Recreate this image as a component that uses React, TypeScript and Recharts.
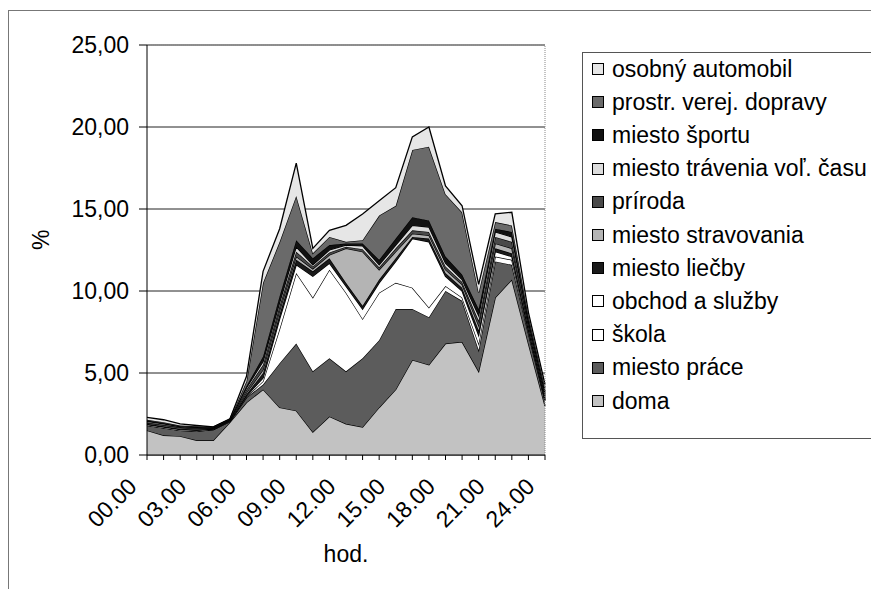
import { AreaChart, Area, XAxis, YAxis, CartesianGrid, ReferenceLine } from "recharts";

const hours = [
  "00.00", "01.00", "02.00", "03.00", "04.00", "05.00", "06.00", "07.00", "08.00",
  "09.00", "10.00", "11.00", "12.00", "13.00", "14.00", "15.00", "16.00", "17.00",
  "18.00", "19.00", "20.00", "21.00", "22.00", "23.00", "24.00",
];
const labelHours = [0, 3, 6, 9, 12, 15, 18, 21, 24];
const yTicks = [0, 5, 10, 15, 20, 25];

// stacked bottom -> top
const doma = [1.5, 1.2, 1.15, 0.9, 0.9, 2.0, 3.2, 4.0, 2.9, 2.7, 1.4, 2.35, 1.9, 1.7, 2.9, 4.0, 5.8, 5.5, 6.8, 6.9, 5.1, 9.6, 10.7, 6.8, 3.0];
const miestoPrace = [0.3, 0.45, 0.35, 0.55, 0.65, 0.05, 0.3, 0.3, 2.7, 4.1, 3.7, 3.55, 3.2, 4.2, 4.1, 4.9, 3.1, 2.9, 3.2, 2.5, 1.3, 2.2, 0.9, 0.6, 0.3];
const skola = [0, 0, 0, 0, 0, 0, 0.05, 0.2, 2.1, 4.3, 4.5, 5.4, 4.8, 2.4, 2.9, 1.6, 1.3, 0.6, 0.3, 0.2, 0.4, 0.3, 0.3, 0.1, 0.05];
const obchod = [0.05, 0.05, 0.05, 0.05, 0.03, 0.02, 0.05, 0.2, 0.6, 0.5, 1.3, 0.4, 0.4, 0.6, 0.6, 1.3, 3.0, 4.0, 0.6, 0.4, 0.5, 0.3, 0.2, 0.1, 0.05];
const liecby = [0.05, 0.05, 0.05, 0.05, 0.02, 0.01, 0.1, 0.3, 0.3, 0.3, 0.3, 0.3, 0.2, 0.2, 0.2, 0.2, 0.1, 0.2, 0.2, 0.2, 0.3, 0.2, 0.2, 0.15, 0.1];
const stravovanie = [0.05, 0.05, 0.05, 0.05, 0.02, 0.02, 0.1, 0.2, 0.2, 0.2, 0.15, 0.2, 2.1, 3.3, 0.6, 0.4, 0.2, 0.2, 0.2, 0.2, 0.3, 0.3, 0.3, 0.15, 0.1];
const priroda = [0.05, 0.05, 0.05, 0.05, 0.02, 0.02, 0.2, 0.3, 0.3, 0.3, 0.15, 0.15, 0.1, 0.15, 0.15, 0.2, 0.2, 0.2, 0.2, 0.15, 0.3, 0.4, 0.4, 0.1, 0.1];
const volnyCas = [0.05, 0.05, 0.03, 0.03, 0.02, 0.02, 0.1, 0.2, 0.2, 0.3, 0.1, 0.15, 0.1, 0.2, 0.15, 0.2, 0.3, 0.3, 0.2, 0.15, 0.3, 0.3, 0.3, 0.1, 0.1];
const sport = [0.05, 0.05, 0.03, 0.02, 0.02, 0.02, 0.1, 0.3, 0.4, 0.4, 0.4, 0.3, 0.1, 0.15, 0.3, 0.4, 0.5, 0.4, 0.4, 0.3, 0.4, 0.2, 0.3, 0.2, 0.1];
const mhd = [0.05, 0.05, 0.04, 0.05, 0.02, 0.02, 0.3, 4.5, 3.3, 2.7, 0.3, 0.5, 0.1, 0.2, 2.7, 2.0, 4.1, 4.5, 3.8, 3.8, 1.0, 0.4, 0.4, 0.2, 0.2];
const auto = [0.15, 0.15, 0.1, 0.05, 0.02, 0.02, 0.3, 0.7, 0.8, 2.0, 0.3, 0.4, 1.0, 1.6, 0.9, 1.1, 0.8, 1.2, 0.5, 0.4, 0.5, 0.5, 0.8, 0.2, 0.2];

const series = [
  { key: "doma", name: "doma", values: doma, fill: "#c2c2c2" },
  { key: "prace", name: "miesto práce", values: miestoPrace, fill: "#5c5c5c" },
  { key: "skola", name: "škola", values: skola, fill: "#ffffff" },
  { key: "obchod", name: "obchod a služby", values: obchod, fill: "#ffffff" },
  { key: "liecby", name: "miesto liečby", values: liecby, fill: "#1a1a1a" },
  { key: "strav", name: "miesto stravovania", values: stravovanie, fill: "#b4b4b4" },
  { key: "priroda", name: "príroda", values: priroda, fill: "#4a4a4a" },
  { key: "volny", name: "miesto trávenia voľ. času", values: volnyCas, fill: "#dcdcdc" },
  { key: "sport", name: "miesto športu", values: sport, fill: "#111111" },
  { key: "mhd", name: "prostr. verej. dopravy", values: mhd, fill: "#6a6a6a" },
  { key: "auto", name: "osobný automobil", values: auto, fill: "#e6e6e6" },
];

const data = hours.map((label, i) => {
  const row: Record<string, number | string> = { h: i, label };
  series.forEach(s => { row[s.key] = s.values[i]; });
  return row;
});

const FONT = '"Liberation Sans", Arial, sans-serif';

function XTick({ x, y, payload }: { x?: number; y?: number; payload?: { value: number } }) {
  const v = payload?.value ?? 0;
  if (!labelHours.includes(v)) return <g />;
  return (
    <text
      transform={`translate(${(x ?? 0) - 9},${(y ?? 0) + 26}) rotate(-45)`}
      textAnchor="end"
      fontSize={23}
      fontFamily={FONT}
      fill="#000"
    >
      {hours[v]}
    </text>
  );
}

export default function App() {
  const fmtY = (v: number) => v.toFixed(2).replace(".", ",");
  return (
    <div style={{ position: "absolute", left: 0, top: 0, width: 871, height: 591, overflow: "hidden", background: "#fff", fontFamily: FONT }}>
      <div style={{ position: "absolute", left: 8, top: 10, width: 900, height: 578, borderTop: "1px solid #777", borderLeft: "1px solid #777" }} />
      <AreaChart
        width={871}
        height={591}
        data={data}
        margin={{ top: 45, right: 326, left: 0, bottom: 0 }}
        style={{ position: "absolute", left: 0, top: 0 }}
      >
        <CartesianGrid horizontal vertical={false} stroke="#222" strokeWidth={1} />
        <XAxis
          dataKey="h"
          type="number"
          domain={[0, 24]}
          ticks={hours.map((_, i) => i)}
          interval={0}
          height={136}
          tick={<XTick />}
          tickSize={5}
          axisLine={{ stroke: "#000" }}
          tickLine={{ stroke: "#000" }}
          label={{ value: "hod.", position: "insideBottom", offset: 29, fontSize: 23, fontFamily: FONT, fill: "#000" }}
        />
        <YAxis
          domain={[0, 25]}
          ticks={yTicks}
          width={147}
          tickSize={8}
          tickMargin={10}
          tickFormatter={fmtY}
          tick={{ fontSize: 23, fontFamily: FONT, fill: "#000" }}
          axisLine={{ stroke: "#000" }}
          tickLine={{ stroke: "#000" }}
          label={{ value: "%", angle: -90, position: "insideLeft", offset: 41, fontSize: 23, fontFamily: FONT, fill: "#000" }}
        />
        {series.map(s => (
          <Area
            key={s.key}
            dataKey={s.key}
            name={s.name}
            stackId="a"
            type="linear"
            fill={s.fill}
            fillOpacity={1}
            stroke="#000"
            strokeWidth={1.3}
            isAnimationActive={false}
            dot={false}
            activeDot={false}
          />
        ))}
        <ReferenceLine x={24} stroke="#888" strokeDasharray="1 1" />
        <ReferenceLine y={25} stroke="#888" strokeDasharray="1 1" />
      </AreaChart>
      <div style={{ position: "absolute", left: 582, top: 52, width: 320, height: 385, border: "1px solid #555", background: "#fff" }}>
        {[...series].reverse().map((s, i) => (
          <div key={s.key} style={{ position: "absolute", left: 0, top: 3 + i * 33.2, height: 26, display: "flex", alignItems: "center", whiteSpace: "nowrap" }}>
            <span style={{ display: "inline-block", width: 10, height: 10, marginLeft: 9, marginRight: 8, background: s.fill, border: "1px solid #000" }} />
            <span style={{ fontSize: 23, color: "#000" }}>{s.name}</span>
          </div>
        ))}
      </div>
    </div>
  );
}
